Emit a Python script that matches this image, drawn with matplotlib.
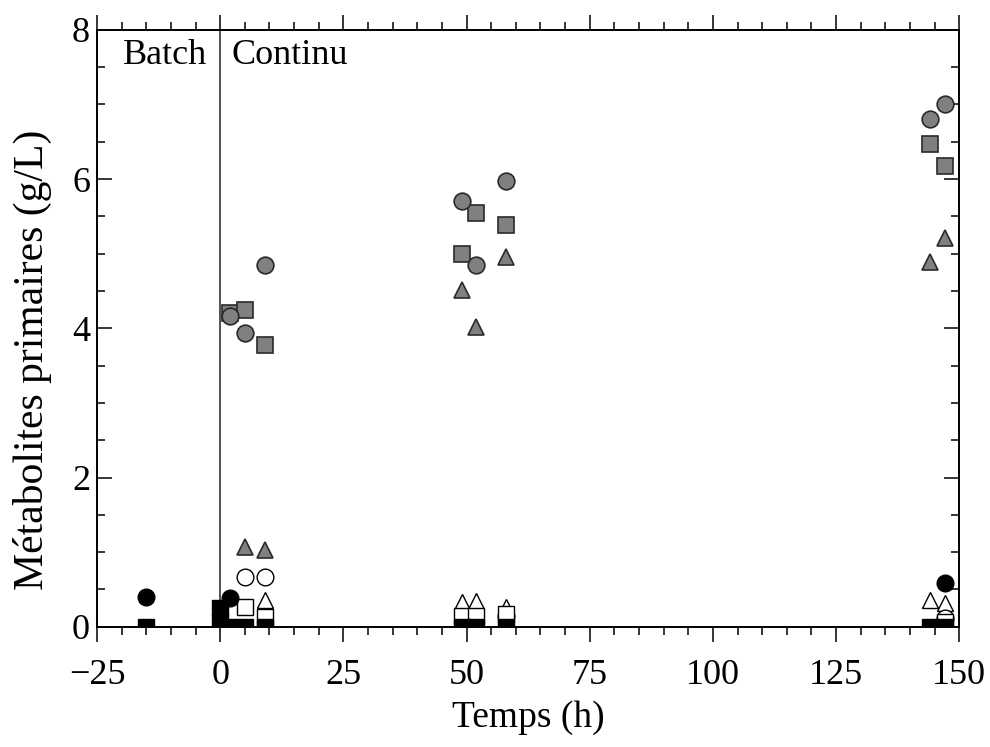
import numpy as np
import matplotlib
matplotlib.use('Agg')
import matplotlib.pyplot as plt
from matplotlib.ticker import MultipleLocator

plt.rcParams['font.family'] = ['Liberation Serif', 'DejaVu Serif']

# Donnees (temps en h, concentrations en g/L)
gris_rond_t = [2, 5, 9, 49, 52, 58, 144, 147]
gris_rond_c = [4.17, 3.94, 4.85, 5.70, 4.85, 5.98, 6.81, 7.01]

gris_carre_t = [2, 5, 9, 49, 52, 58, 144, 147]
gris_carre_c = [4.21, 4.24, 3.77, 5.00, 5.55, 5.38, 6.47, 6.17]

gris_tri_t = [5, 9, 49, 52, 58, 144, 147]
gris_tri_c = [1.07, 1.03, 4.52, 4.02, 4.96, 4.89, 5.21]

blanc_tri_t = [9, 49, 52, 58, 144, 147]
blanc_tri_c = [0.36, 0.33, 0.35, 0.26, 0.36, 0.32]

blanc_rond_t = [5, 9, 58, 147]
blanc_rond_c = [0.66, 0.66, 0.15, 0.12]

blanc_carre_t = [5, 9, 49, 52, 58, 147]
blanc_carre_c = [0.26, 0.13, 0.14, 0.14, 0.17, 0.07]

noir_rond_t = [-15, 2, 147]
noir_rond_c = [0.40, 0.39, 0.59]

noir_carre_t = [-15, 0, 0, 2, 5, 9, 49, 52, 58, 144, 147]
noir_carre_c = [0.0, 0.25, 0.06, 0.0, 0.0, 0.0, 0.0, 0.0, 0.0, 0.0, 0.0]

fig = plt.figure(figsize=(9.9, 7.47), dpi=100)
ax = fig.add_axes([0.098, 0.161, 0.871, 0.799])

ms = 12
edge = '#2a2a2a'
gris = '#808080'

ax.axvline(0, color='#444444', lw=1.3, zorder=1)

# blancs
ax.plot(blanc_tri_t, blanc_tri_c, '^', ms=ms, mfc='white', mec='black', mew=1, ls='none', zorder=2)
ax.plot(blanc_rond_t, blanc_rond_c, 'o', ms=ms, mfc='white', mec='black', mew=1, ls='none', zorder=2)
ax.plot(blanc_carre_t, blanc_carre_c, 's', ms=ms, mfc='white', mec='black', mew=1, ls='none', zorder=3)
# noirs
ax.plot(noir_carre_t, noir_carre_c, 's', ms=ms, mfc='black', mec='black', mew=1, ls='none', zorder=4)
ax.plot(noir_rond_t, noir_rond_c, 'o', ms=ms, mfc='black', mec='black', mew=1, ls='none', zorder=4)
# gris
ax.plot(gris_tri_t, gris_tri_c, '^', ms=ms, mfc=gris, mec=edge, mew=1.2, ls='none', zorder=5)
ax.plot(gris_carre_t, gris_carre_c, 's', ms=ms, mfc=gris, mec=edge, mew=1.2, ls='none', zorder=5)
ax.plot(gris_rond_t, gris_rond_c, 'o', ms=ms, mfc=gris, mec=edge, mew=1.2, ls='none', zorder=6)

ax.set_xlim(-25, 150)
ax.set_ylim(0, 8)
ax.xaxis.set_major_locator(MultipleLocator(25))
ax.xaxis.set_minor_locator(MultipleLocator(5))
ax.yaxis.set_major_locator(MultipleLocator(2))
ax.yaxis.set_minor_locator(MultipleLocator(0.5))

ax.tick_params(axis='x', which='both', direction='out', top=True, bottom=True, labelsize=26, width=1.1, pad=12)
ax.tick_params(axis='y', which='both', direction='in', left=True, right=True, labelsize=26, width=1.1, pad=5)
ax.tick_params(which='major', length=11)
ax.tick_params(which='minor', length=6)
for s in ax.spines.values():
    s.set_linewidth(1.4)

ax.text(-19.8, 7.88, 'Batch', fontsize=26, va='top', ha='left')
ax.text(2.2, 7.88, 'Continu', fontsize=26, va='top', ha='left')

ax.set_xlabel('Temps (h)', fontsize=27, labelpad=6)
ax.set_ylabel('Métabolites primaires (g/L)', fontsize=30)
ax.yaxis.set_label_coords(-0.052, 0.447)

fig.savefig('out.png', dpi=100)
